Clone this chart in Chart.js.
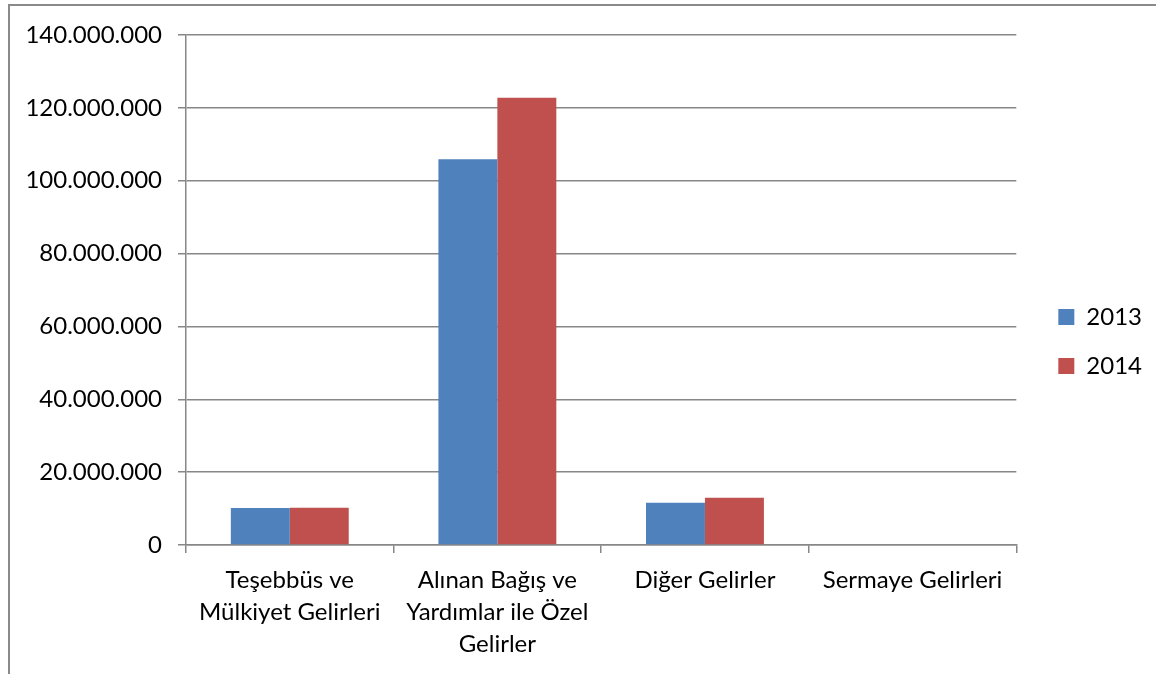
<!DOCTYPE html>
<html>
<head>
<meta charset="utf-8">
<script src="https://cdn.jsdelivr.net/npm/chart.js@4.4.1/dist/chart.umd.min.js"></script>
<style>
  html, body { margin: 0; padding: 0; background: #fff; }
  #wrap { position: absolute; left: 0; top: 0; width: 1156px; height: 674px; }
  #frame { position: absolute; left: 8px; top: 4px; right: -10px; bottom: -10px;
           border-left: 2px solid #8a8a8a; border-top: 2px solid #8a8a8a; pointer-events: none; }
</style>
</head>
<body>
<div id="wrap">
  <canvas id="myChart" width="1156" height="674"></canvas>
  <div id="frame"></div>
</div>
<script>
const categories = [
    ['Teşebbüs ve', 'Mülkiyet Gelirleri'],
    ['Alınan Bağış ve', 'Yardımlar ile Özel', 'Gelirler'],
    'Diğer Gelirler',
    'Sermaye Gelirleri'
];
const values2013 = [10150000, 105900000, 11600000, 0];
const values2014 = [10200000, 122800000, 13000000, 0];
const yTicks = [0, 20000000, 40000000, 60000000, 80000000, 100000000, 120000000, 140000000];

const gridColor = '#878787';
const fontFamily = 'Lato, "Open Sans", sans-serif';

function dotted(v) {
    return String(Math.round(v)).replace(/\B(?=(\d{3})+(?!\d))/g, '.');
}

// nudge the legend a bit up, like in the excel original
const legendShift = {
    id: 'legendShift',
    afterLayout(chart) {
        chart.legend.top -= 13;
        chart.legend.bottom -= 13;
    }
};

const ctx = document.getElementById('myChart');

new Chart(ctx, {
    type: 'bar',
    data: {
        labels: categories,
        datasets: [
            {
                label: '2013',
                data: values2013,
                backgroundColor: '#4F81BD',
                borderWidth: 0
            },
            {
                label: '2014',
                data: values2014,
                backgroundColor: '#C0504D',
                borderWidth: 0
            }
        ]
    },
    plugins: [legendShift],
    options: {
        responsive: false,
        animation: false,
        layout: {
            padding: { top: 35, left: 0, right: 4, bottom: 0 }
        },
        datasets: {
            bar: {
                categoryPercentage: 0.568,
                barPercentage: 1.0
            }
        },
        plugins: {
            title: { display: false },
            tooltip: { enabled: false },
            legend: {
                position: 'right',
                align: 'center',
                labels: {
                    boxWidth: 16,
                    boxHeight: 16,
                    padding: 25,
                    color: '#000',
                    font: { family: fontFamily, size: 24 }
                }
            }
        },
        scales: {
            y: {
                min: 0,
                max: 140000000,
                afterBuildTicks: scale => {
                    scale.ticks = yTicks.map(v => ({ value: v }));
                },
                afterFit: scale => {
                    scale.width = 186;
                },
                ticks: {
                    color: '#000',
                    padding: 16,
                    font: { family: fontFamily, size: 24 },
                    callback: v => dotted(v)
                },
                grid: {
                    color: gridColor,
                    lineWidth: 1.5,
                    tickLength: 8,
                    drawTicks: true
                },
                border: { display: true, color: gridColor, width: 1.5 }
            },
            y2: {
                position: 'right',
                display: true,
                afterFit: scale => {
                    scale.width = 17;
                },
                ticks: { display: false },
                grid: { display: false },
                border: { display: false }
            },
            x: {
                afterFit: scale => {
                    scale.height = 129;
                },
                ticks: {
                    color: '#000',
                    padding: 11,
                    maxRotation: 0,
                    autoSkip: false,
                    font: { family: fontFamily, size: 24, lineHeight: 1.333 }
                },
                grid: {
                    offset: true,
                    drawOnChartArea: false,
                    color: gridColor,
                    lineWidth: 1.5,
                    tickLength: 8
                },
                border: { display: true, color: gridColor, width: 1.5 }
            }
        }
    }
});
</script>
</body>
</html>
